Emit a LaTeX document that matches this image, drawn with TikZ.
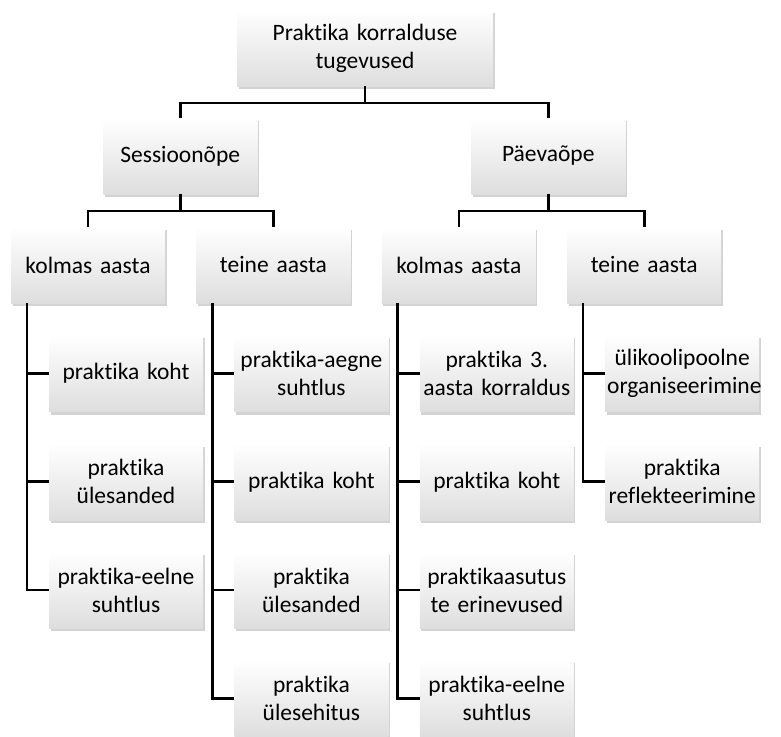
\documentclass[tikz,border=0pt]{standalone}
\usepackage{fontspec}
\setmainfont{Carlito}[Ligatures={NoCommon,NoContextual}]
\usetikzlibrary{positioning,shadows}

\begin{document}
\begin{tikzpicture}[x=1pt,y=1pt,node distance=31pt,
    card/.style={
    % The shape:
    rectangle,
    minimum width=154pt,minimum height=76.5pt,
    text width=150pt,inner xsep=2pt,inner ysep=0pt,align=center,
    % The rest
    top color=white,bottom color=black!13,
    drop shadow={shadow xshift=1.5pt,shadow yshift=-3pt,opacity=0.35},
    font=\fontsize{23.5}{28}\selectfont},
    link/.style={line width=2.6pt,draw=black}]
    \useasboundingbox (0,0) rectangle (781,736);
    % top
    \node (root) [card,text width=252pt] at (365,688) {Praktika korralduse\\tugevused};
    \node (sess) [card] at (180.25,580) {Sessioonõpe};
    \node (paev) [card] at (548.25,580) {Päevaõpe};
    % years
    \node (kolmasS) [card] at (88,471) {kolmas aasta};
    \node (teineS) [card,right=of kolmasS] {teine aasta};
    \node (kolmasP) [card,right=of teineS] {kolmas aasta};
    \node (teineP) [card,right=of kolmasP] {teine aasta};
    % Sessioonõpe, kolmas aasta
    \node (s3a) [card,below=31.5pt of kolmasS,xshift=38pt] {praktika koht};
    \node (s3b) [card,below=31.5pt of s3a] {praktika\\ülesanded};
    \node (s3c) [card,below=31.5pt of s3b] {praktika-eelne\\suhtlus};
    % Sessioonõpe, teine aasta
    \node (s2a) [card,below=31.5pt of teineS,xshift=38pt] {praktika-aegne\\suhtlus};
    \node (s2b) [card,below=31.5pt of s2a] {praktika koht};
    \node (s2c) [card,below=31.5pt of s2b] {praktika\\ülesanded};
    \node (s2d) [card,below=31.5pt of s2c] {praktika\\ülesehitus};
    % Päevaõpe, kolmas aasta
    \node (p3a) [card,below=31.5pt of kolmasP,xshift=38pt] {praktika 3.\\aasta korraldus};
    \node (p3b) [card,below=31.5pt of p3a] {praktika koht};
    \node (p3c) [card,below=31.5pt of p3b] {praktikaasutus\\te erinevused};
    \node (p3d) [card,below=31.5pt of p3c] {praktika-eelne\\suhtlus};
    % Päevaõpe, teine aasta
    \node (p2a) [card,below=31.5pt of teineP,xshift=38pt] {ülikoolipoolne\\organiseerimine};
    \node (p2b) [card,below=31.5pt of p2a] {praktika\\reflekteerimine};
    % connectors
    \draw[link] (root.south) -- ++(0,-16.5) -| (sess.north)
                (root.south) -- ++(0,-16.5) -| (paev.north);
    \draw[link] (sess.south) -- ++(0,-16.5) -| (kolmasS.north)
                (sess.south) -- ++(0,-16.5) -| (teineS.north);
    \draw[link] (paev.south) -- ++(0,-16.5) -| (kolmasP.north)
                (paev.south) -- ++(0,-16.5) -| (teineP.north);
    \draw[link] ([xshift=16pt]kolmasS.south west) |- (s3a.west)
                ([xshift=16pt]kolmasS.south west) |- (s3b.west)
                ([xshift=16pt]kolmasS.south west) |- (s3c.west);
    \draw[link] ([xshift=16pt]teineS.south west) |- (s2a.west)
                ([xshift=16pt]teineS.south west) |- (s2b.west)
                ([xshift=16pt]teineS.south west) |- (s2c.west)
                ([xshift=16pt]teineS.south west) |- (s2d.west);
    \draw[link] ([xshift=16pt]kolmasP.south west) |- (p3a.west)
                ([xshift=16pt]kolmasP.south west) |- (p3b.west)
                ([xshift=16pt]kolmasP.south west) |- (p3c.west)
                ([xshift=16pt]kolmasP.south west) |- (p3d.west);
    \draw[link] ([xshift=16pt]teineP.south west) |- (p2a.west)
                ([xshift=16pt]teineP.south west) |- (p2b.west);
\end{tikzpicture}
\end{document}
